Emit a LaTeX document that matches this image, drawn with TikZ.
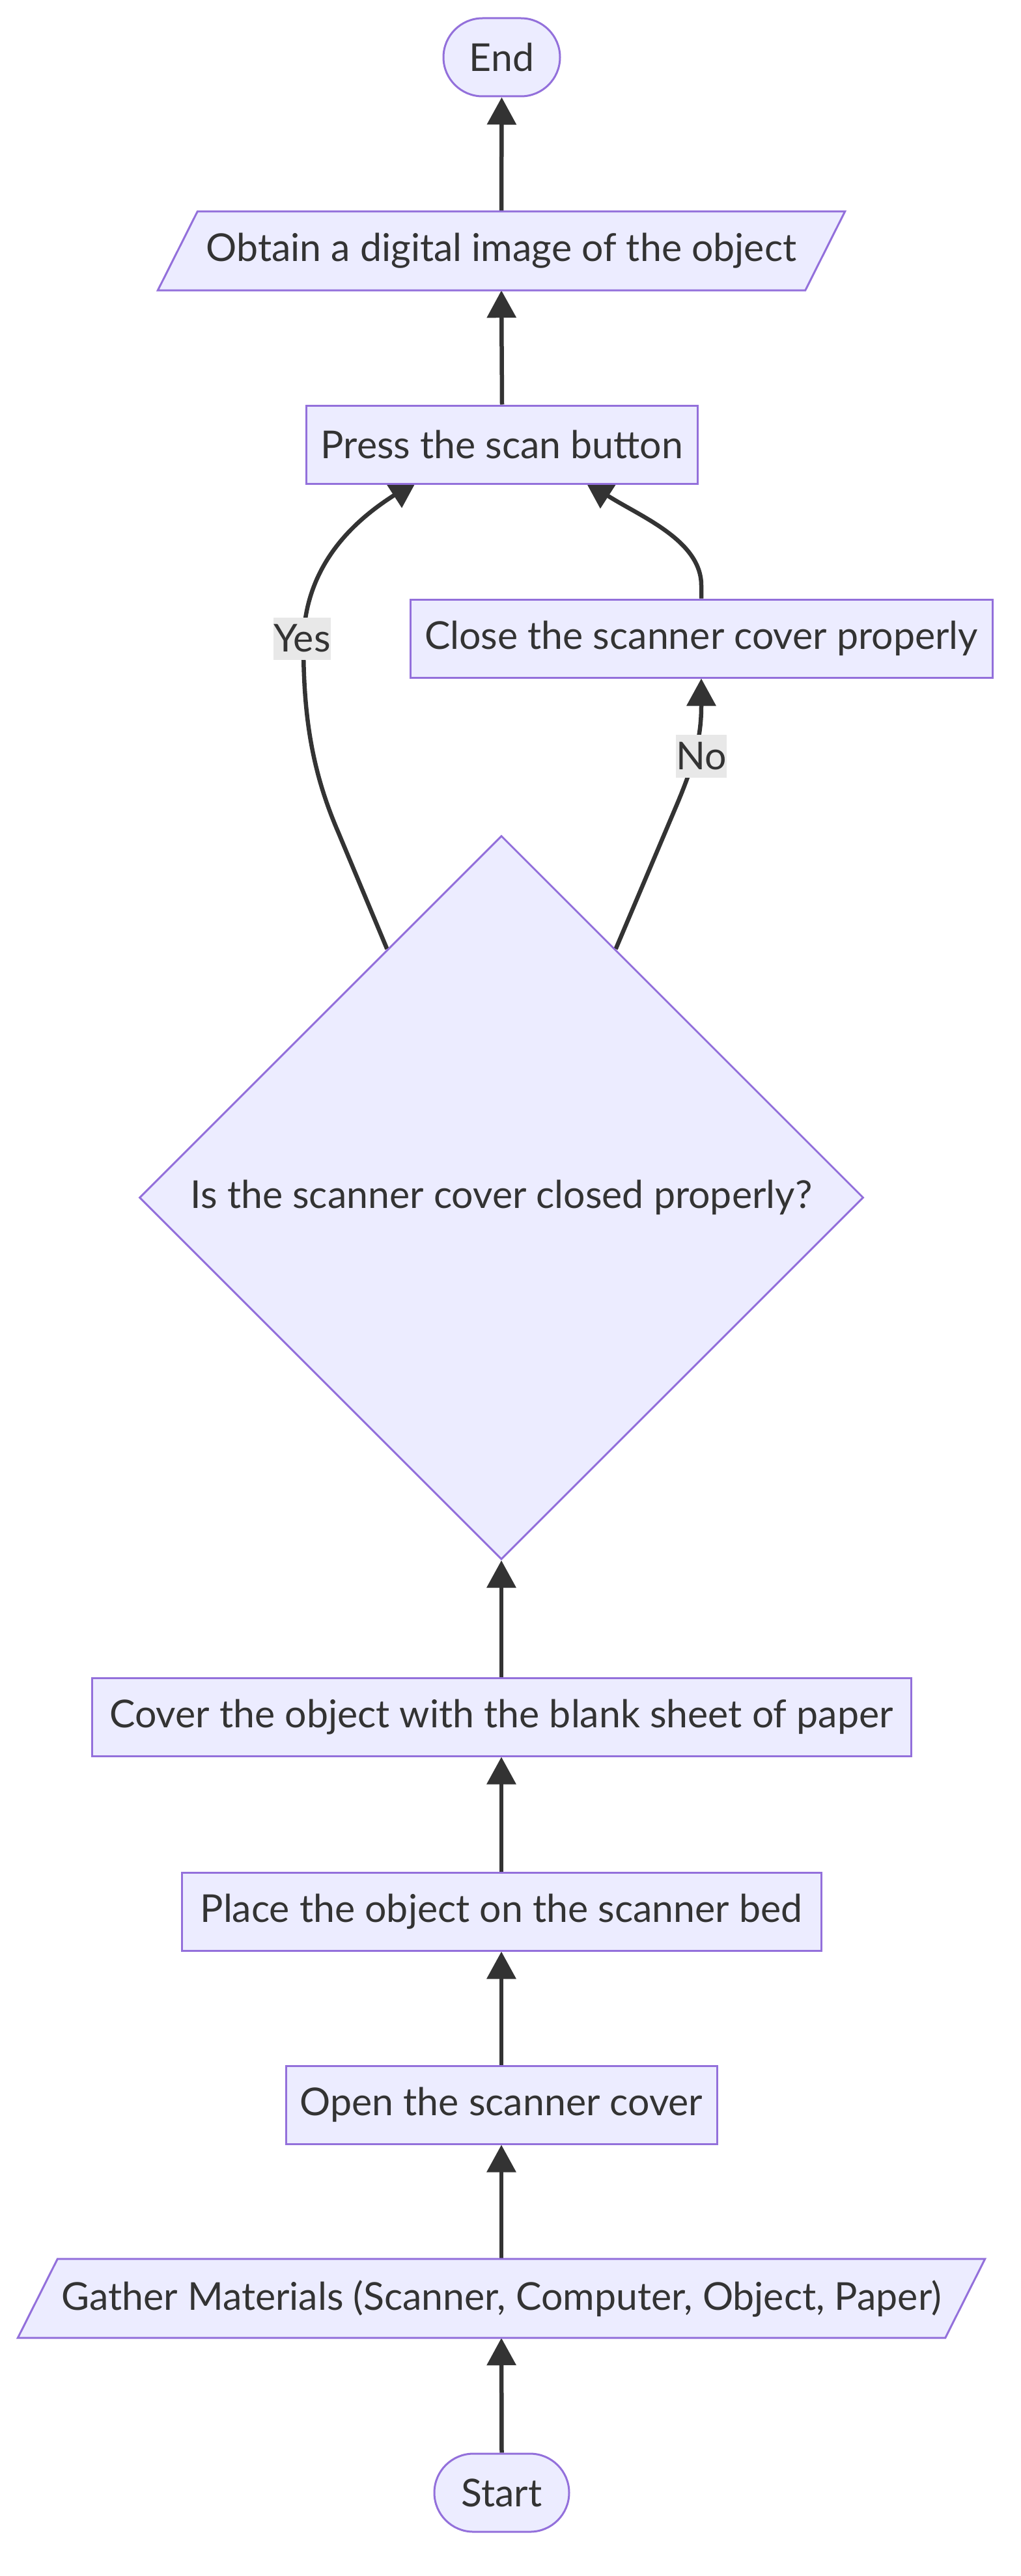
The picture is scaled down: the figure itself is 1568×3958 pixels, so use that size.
\documentclass[tikz,border=0pt]{standalone}
\usepackage{fontspec}
\setmainfont{Lato}
\usetikzlibrary{shapes.geometric,arrows.meta,calc}
\definecolor{nfill}{HTML}{ECECFF}
\definecolor{nstroke}{HTML}{9370DB}
\definecolor{ink}{HTML}{333333}
\definecolor{lblbg}{HTML}{E8E8E8}
\pgfdeclarelayer{edges}
\pgfdeclarelayer{shapes}
\pgfsetlayers{edges,shapes,main}
\begin{document}
\begin{tikzpicture}[x=1pt,y=-1pt,
  txt/.style={text=ink, font=\fontsize{59}{70}\selectfont},
  nodebase/.style={txt, fill=nfill, draw=nstroke, line width=3pt, inner sep=0pt, minimum height=120pt},
  box/.style={nodebase, rectangle},
  term/.style={nodebase, rectangle, rounded corners=60pt},
  iotext/.style={txt, rectangle, inner sep=0pt, minimum height=121pt},
  iobox/.style={fill=nfill, draw=nstroke, line width=3pt},
  dec/.style={nodebase, diamond, aspect=1, minimum width=1112pt, minimum height=1112pt},
  flow/.style={draw=ink, line width=6.5pt, -{Triangle[length=42pt,width=44pt]}},
  elabel/.style={txt, fill=lblbg, inner sep=0pt, minimum width=80pt, minimum height=65pt}
]
\useasboundingbox (0,0) rectangle (1568,3958);

% nodes
\node[term, minimum width=179pt] (fin) at (770.5,88) {End};
\node[iotext, minimum width=994pt] (obtain) at (770,385.5) {Obtain a digital image of the object};
\node[box, minimum width=601pt] (press) at (771,683) {Press the scan button};
\node[box, minimum width=894pt] (close) at (1077,981) {Close the scanner cover properly};
\node[dec] (dia) at (770,1840) {Is the scanner cover closed properly?};
\node[box, minimum width=1258pt] (cover) at (770,2638) {Cover the object with the blank sheet of paper};
\node[box, minimum width=982pt] (place) at (770,2937) {Place the object on the scanner bed};
\node[box, minimum width=662pt] (open) at (770,3234) {Open the scanner cover};
\node[iotext, minimum width=1424pt] (gather) at (770,3531.5) {Gather Materials (Scanner, Computer, Object, Paper)};
\node[term, minimum width=207pt] (beg) at (770.5,3830) {Start};

% parallelogram outlines
\begin{pgfonlayer}{shapes}
\path[iobox] ([xshift=-30.5pt]obtain.south west) -- ([xshift=30.5pt]obtain.north west)
  -- ([xshift=30.5pt]obtain.north east) -- ([xshift=-30.5pt]obtain.south east) -- cycle;
\path[iobox] ([xshift=-30.5pt]gather.south west) -- ([xshift=30.5pt]gather.north west)
  -- ([xshift=30.5pt]gather.north east) -- ([xshift=-30.5pt]gather.south east) -- cycle;
\end{pgfonlayer}

% connectors
\begin{pgfonlayer}{edges}
\draw[flow] (beg.north) -- (gather.south);
\draw[flow] (gather.north) -- (open.south);
\draw[flow] (open.north) -- (place.south);
\draw[flow] (place.north) -- (cover.south);
\draw[flow] (cover.north) -- (dia.south);
\draw[flow] ($(dia.north)!0.315!(dia.west)$) -- (520,1280)
  .. controls (482,1192) and (466,1110) .. (466,990)
  .. controls (466,860) and (557,792) .. ($(press.south)+(-131,-6)$);
\draw[flow] ($(dia.north)!0.315!(dia.east)$) -- (1040,1235)
  .. controls (1065,1175) and (1077,1135) .. (1077,1085) -- (close.south);
\draw[flow] (close.north) -- ++(0,-20)
  .. controls (1077,830) and (982,793) .. ($(press.south)+(128,-5)$);
\draw[flow] (press.north) -- (obtain.south);
\draw[flow] (obtain.north) -- (fin.south);
\end{pgfonlayer}

% edge labels
\node[elabel] (yes) at (464,981) {Yes};
\node[elabel, minimum width=68pt, minimum height=66pt] (no) at (1077,1162) {No};
\end{tikzpicture}
\end{document}
